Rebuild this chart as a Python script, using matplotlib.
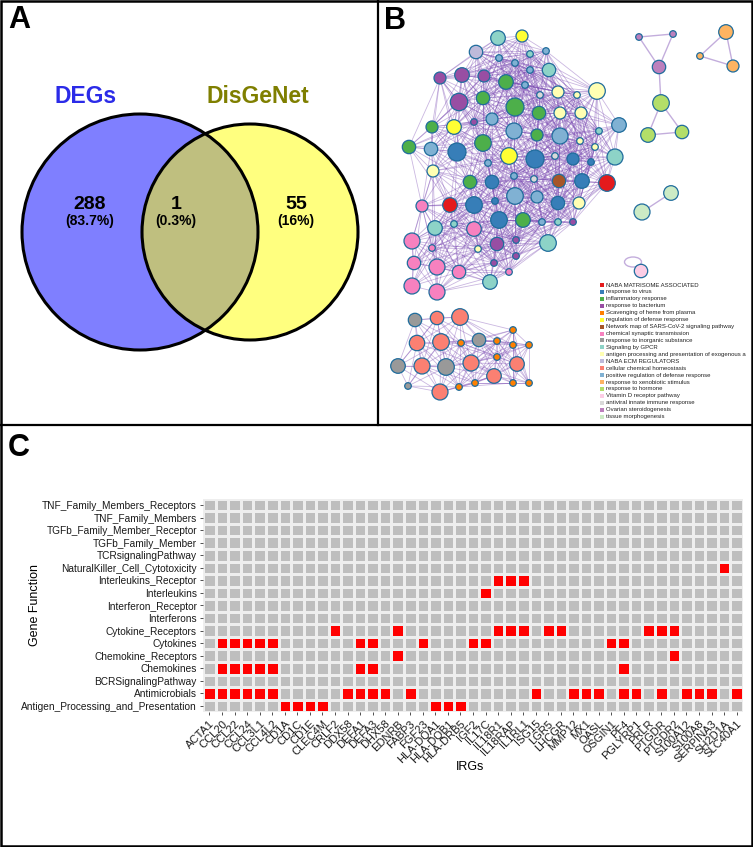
import matplotlib
matplotlib.use('Agg')
import matplotlib.pyplot as plt
import numpy as np
from matplotlib.patches import Circle, Rectangle, Ellipse
from matplotlib.colors import ListedColormap

plt.rcParams['font.family'] = ['Liberation Sans', 'DejaVu Sans']

W, H = 753, 847
fig = plt.figure(figsize=(W / 100, H / 100), dpi=100)

# ---------------- Panel A data ----------------
venn_names = ['DEGs', 'DisGeNet']
venn_counts = [288, 1, 55]
venn_pcts = ['(83.7%)', '(0.3%)', '(16%)']

# ---------------- Panel B data ----------------
legend_terms = [
    'NABA MATRISOME ASSOCIATED', 'response to virus', 'inflammatory response',
    'response to bacterium', 'Scavenging of heme from plasma',
    'regulation of defense response', 'Network map of SARS-CoV-2 signaling pathway',
    'chemical synaptic transmission', 'response to inorganic substance',
    'Signaling by GPCR', 'antigen processing and presentation of exogenous a',
    'NABA ECM REGULATORS', 'cellular chemical homeostasis',
    'positive regulation of defense response', 'response to xenobiotic stimulus',
    'response to hormone', 'Vitamin D receptor pathway',
    'antiviral innate immune response', 'Ovarian steroidogenesis',
    'tissue morphogenesis']
term_colors = ['#E41A1C', '#377EB8', '#4DAF4A', '#984EA3', '#FF7F00', '#FFFF33',
               '#A65628', '#F781BF', '#999999', '#8DD3C7', '#FFFFB3', '#BEBADA',
               '#FB8072', '#80B1D3', '#FDB462', '#B3DE69', '#FCCDE5', '#D9D9D9',
               '#BC80BD', '#CCEBC5']

# nodes: x, y (pixel layout), radius, term index, cluster id
node_x = [498, 522, 476, 499, 530, 546, 515, 549, 530, 440, 462, 484, 506, 525, 558, 577, 597,
          459, 483, 540, 515, 539, 560, 581, 432, 454, 474, 492, 514, 537, 560, 599, 619,
          409, 431, 457, 483, 509, 535, 555, 573, 580, 595, 615, 433, 488, 591, 470, 492,
          514, 534, 559, 582, 607, 422, 450, 474, 495, 515, 537, 558, 579, 435, 454, 474,
          499, 523, 542, 558, 573, 412, 432, 497, 516, 548, 478, 414, 437, 459, 494, 516,
          509, 490, 412, 437,
          415, 437, 460, 417, 441, 461, 479, 497, 513, 513, 529, 497, 398, 422, 446, 471,
          517, 494, 408, 440, 459, 475, 513, 529,
          639, 673, 659, 661, 648, 682,
          726, 700, 733,
          671, 642,
          641]
node_y = [38, 36, 52, 58, 54, 51, 63, 70, 70, 78, 75, 76, 82, 85, 92, 95, 91,
          102, 98, 95, 107, 113, 113, 113, 127, 127, 122, 119, 131, 135, 136, 131, 125,
          147, 149, 152, 143, 156, 159, 156, 159, 141, 147, 157, 171, 163, 162, 182, 182,
          176, 179, 181, 181, 183, 206, 205, 205, 201, 196, 197, 203, 203, 228, 224, 229,
          220, 220, 222, 222, 222, 241, 248, 244, 240, 243, 249, 263, 267, 272, 263, 256,
          272, 282, 286, 292,
          320, 318, 317, 343, 342, 343, 340, 341, 330, 345, 345, 357, 366, 366, 367, 363,
          364, 376, 386, 392, 387, 383, 383, 383,
          37, 34, 67, 103, 135, 132,
          32, 56, 66,
          193, 212,
          271]
node_r = [7.3, 6.0, 6.7, 3.3, 3.3, 3.3, 3.3, 6.7, 3.3, 6.0, 7.3, 6.0, 7.3, 3.3, 6.0, 3.3, 8.3,
          8.7, 6.7, 3.3, 9.0, 6.7, 6.0, 6.0, 6.0, 7.3, 3.3, 6.0, 8.0, 6.0, 8.0, 3.3, 7.3,
          6.7, 6.7, 9.0, 8.3, 8.3, 9.0, 3.3, 6.0, 3.3, 3.3, 8.0, 6.0, 3.3, 3.3, 6.7, 6.7,
          3.3, 3.3, 6.7, 7.3, 8.3, 6.0, 7.3, 8.3, 3.3, 8.3, 6.0, 6.7, 6.0, 7.3, 3.3, 7.3,
          8.3, 7.3, 3.3, 3.3, 3.3, 8.0, 3.3, 6.7, 3.3, 8.3, 3.3, 6.7, 8.0, 6.7, 3.3, 3.3,
          3.3, 7.3, 8.0, 8.0,
          6.7, 6.7, 8.3, 7.7, 8.3, 3.3, 6.7, 3.3, 3.3, 3.3, 3.3, 3.3, 7.3, 8.0, 8.3, 8.0,
          7.3, 7.3, 3.3, 8.0, 3.3, 3.3, 3.3, 3.3,
          3.3, 3.3, 6.7, 8.3, 7.3, 6.7,
          7.3, 3.3, 6.0,
          7.3, 8.0,
          6.7]
node_term = [9, 5, 11, 13, 9, 13, 13, 9, 13, 3, 3, 3, 2, 13, 10, 10, 10,
             3, 2, 17, 2, 2, 10, 10, 2, 5, 3, 13, 13, 2, 13, 9, 13,
             2, 13, 1, 2, 5, 1, 17, 1, 10, 10, 9, 10, 13, 1, 2, 1,
             13, 17, 6, 1, 0, 7, 0, 1, 1, 13, 13, 1, 10, 9, 9, 7,
             1, 2, 13, 9, 3, 7, 7, 3, 3, 9, 10, 7, 7, 7, 3, 3,
             7, 9, 7, 7,
             8, 12, 12, 12, 12, 4, 8, 4, 4, 4, 4, 4, 8, 12, 8, 12,
             12, 12, 8, 12, 4, 4, 4, 4,
             18, 18, 18, 15, 15, 15,
             14, 14, 14,
             19, 19,
             16]
node_cluster = ['M'] * 85 + ['L'] * 24 + ['R1'] * 6 + ['R2'] * 3 + ['R3'] * 2 + ['R4']
small_edges = [(109, 110), (109, 111), (110, 111), (111, 112), (112, 113), (112, 114),
               (113, 114), (115, 116), (115, 117), (116, 117), (118, 119)]

# ---------------- Panel C data ----------------
gene_functions = ['Antigen_Processing_and_Presentation', 'Antimicrobials',
                  'BCRSignalingPathway', 'Chemokines', 'Chemokine_Receptors',
                  'Cytokines', 'Cytokine_Receptors', 'Interferons',
                  'Interferon_Receptor', 'Interleukins', 'Interleukins_Receptor',
                  'NaturalKiller_Cell_Cytotoxicity', 'TCRsignalingPathway',
                  'TGFb_Family_Member', 'TGFb_Family_Member_Receptor',
                  'TNF_Family_Members', 'TNF_Family_Members_Receptors']
irgs = ['ACTA1', 'CCL20', 'CCL22', 'CCL24', 'CCL3L1', 'CCL4L2', 'CD1A', 'CD1C', 'CD1E',
        'CLEC4M', 'CRLF2', 'DDX58', 'DEFA1', 'DEFA3', 'DHX58', 'EDNRB', 'FABP3', 'FGF23',
        'HLA-DQA1', 'HLA-DQB1', 'HLA-DRB5', 'IGF2', 'IL17C', 'IL18R1', 'IL18RAP', 'IL1RL1',
        'ISG15', 'LGR5', 'LHCGR', 'MMP12', 'MX1', 'OASL', 'OSGIN1', 'PF4', 'PGLYRP1',
        'PRLR', 'PTGDR', 'PTGDR2', 'S100A12', 'S100A8', 'SERPINA3', 'SH2D1A', 'SLC40A1']
antigen_genes = ['CD1A', 'CD1C', 'CD1E', 'CLEC4M', 'HLA-DQA1', 'HLA-DQB1', 'HLA-DRB5']
antimicrobial_genes = ['ACTA1', 'CCL20', 'CCL22', 'CCL24', 'CCL3L1', 'CCL4L2', 'DDX58',
                       'DEFA1', 'DEFA3', 'DHX58', 'FABP3', 'ISG15', 'MMP12', 'MX1', 'OASL',
                       'PF4', 'PGLYRP1', 'PTGDR', 'S100A12', 'S100A8', 'SERPINA3', 'SLC40A1']
chemokine_genes = ['CCL20', 'CCL22', 'CCL24', 'CCL3L1', 'CCL4L2', 'DEFA1', 'DEFA3', 'PF4']
chemokine_receptor_genes = ['EDNRB', 'PTGDR2']
cytokine_genes = ['CCL20', 'CCL22', 'CCL24', 'CCL3L1', 'CCL4L2', 'DEFA1', 'DEFA3', 'FGF23',
                  'IGF2', 'IL17C', 'OSGIN1', 'PF4']
cytokine_receptor_genes = ['CRLF2', 'EDNRB', 'IL18R1', 'IL18RAP', 'IL1RL1', 'LGR5', 'LHCGR',
                           'PRLR', 'PTGDR', 'PTGDR2']
interleukin_genes = ['IL17C']
interleukin_receptor_genes = ['IL18R1', 'IL18RAP', 'IL1RL1']
nk_genes = ['SH2D1A']

membership = {
    'Antigen_Processing_and_Presentation': antigen_genes,
    'Antimicrobials': antimicrobial_genes,
    'Chemokines': chemokine_genes,
    'Chemokine_Receptors': chemokine_receptor_genes,
    'Cytokines': cytokine_genes,
    'Cytokine_Receptors': cytokine_receptor_genes,
    'Interleukins': interleukin_genes,
    'Interleukins_Receptor': interleukin_receptor_genes,
    'NaturalKiller_Cell_Cytotoxicity': nk_genes,
}

# ================= Panel A =================
ax_a = fig.add_axes([0, 1 - 425 / H, 378 / W, 425 / H])
ax_a.set_xlim(0, 378)
ax_a.set_ylim(425, 0)
ax_a.axis('off')
c1 = (140, 232, 118)
c2 = (250, 232, 108)
ax_a.add_patch(Circle(c1[:2], c1[2], fc='#0000FF', alpha=0.5, ec='none'))
ax_a.add_patch(Circle(c2[:2], c2[2], fc='#FFFF00', alpha=0.5, ec='none'))
ax_a.add_patch(Circle(c1[:2], c1[2], fc='none', ec='black', lw=2.2))
ax_a.add_patch(Circle(c2[:2], c2[2], fc='none', ec='black', lw=2.2))
ax_a.text(86, 96, venn_names[0], color='#2B2BE8', fontsize=16.5, fontweight='bold',
          ha='center', va='center')
ax_a.text(258, 96, venn_names[1], color='#7F7F00', fontsize=16.5, fontweight='bold',
          ha='center', va='center')
for x, n, p in zip([90, 176, 296], venn_counts, venn_pcts):
    ax_a.text(x, 204, str(n), fontsize=14, fontweight='bold', ha='center', va='center')
    ax_a.text(x, 221, p, fontsize=10, fontweight='bold', ha='center', va='center')
ax_a.text(8, 5, 'A', fontsize=22, fontweight='bold', ha='left', va='top')

# ================= Panel B =================
ax_b = fig.add_axes([378 / W, 1 - 425 / H, 375 / W, 425 / H])
ax_b.set_xlim(378, 753)
ax_b.set_ylim(425, 0)
ax_b.axis('off')
nx = np.array(node_x, float)
ny = np.array(node_y, float)
ncl = np.array(node_cluster)
edge_col = '#7B4BB3'
for cl, thr in [('M', 78), ('L', 62)]:
    idx = np.where(ncl == cl)[0]
    for a in range(len(idx)):
        for b in range(a + 1, len(idx)):
            i, j = idx[a], idx[b]
            d = np.hypot(nx[i] - nx[j], ny[i] - ny[j])
            if d < thr:
                ax_b.plot([nx[i], nx[j]], [ny[i], ny[j]], color=edge_col, alpha=0.4,
                          lw=0.6, zorder=1)
for i, j in small_edges:
    ax_b.plot([nx[i], nx[j]], [ny[i], ny[j]], color=edge_col, alpha=0.45, lw=1.0, zorder=1)
ax_b.add_patch(Ellipse((633, 262), 17, 10, fc='none', ec=edge_col, alpha=0.45, lw=1.0, zorder=1))
for x, y, r, t in zip(node_x, node_y, node_r, node_term):
    ax_b.add_patch(Circle((x, y), r, fc=term_colors[t], ec='#1F6C9C', lw=0.9, zorder=3))
for k, (term, col) in enumerate(zip(legend_terms, term_colors)):
    yy = 285 + k * 6.93
    ax_b.add_patch(Rectangle((600, yy - 2), 4, 4, fc=col, ec='none'))
    ax_b.text(605.5, yy, term, fontsize=4.35, ha='left', va='center', color='#222222')
ax_b.text(384, 6, 'B', fontsize=22, fontweight='bold', ha='left', va='top')

# ================= Panel C =================
nrow, ncol = len(gene_functions), len(irgs)
mat = np.zeros((nrow, ncol))
for r, fn in enumerate(gene_functions):
    for g in membership.get(fn, []):
        mat[r, irgs.index(g)] = 1

left_px, right_px = 203.2, 742.9
top_px, bot_px = 498.7, 712.3
ax_c = fig.add_axes([left_px / W, 1 - bot_px / H, (right_px - left_px) / W, (bot_px - top_px) / H])
cmap = ListedColormap(['#BEBEBE', '#FF0000'])
ax_c.pcolormesh(np.arange(ncol + 1) - 0.5, np.arange(nrow + 1) - 0.5, mat, cmap=cmap,
                vmin=0, vmax=1, edgecolors='#EEEEEE', linewidth=1.8)
ax_c.set_xlim(-0.5, ncol - 0.5)
ax_c.set_ylim(-0.5, nrow - 0.5)
for s in ax_c.spines.values():
    s.set_visible(False)
ax_c.set_xticks(range(ncol))
ax_c.set_xticklabels(irgs, rotation=45, ha='right', va='top', rotation_mode='anchor',
                     fontsize=8, color='#1A1A1A')
ax_c.set_yticks(range(nrow))
ax_c.set_yticklabels(gene_functions, fontsize=7.3, color='#1A1A1A')
ax_c.tick_params(axis='both', length=2.5, width=0.6, color='#333333', pad=2)

# ================= Frame / dividers =================
ov = fig.add_axes([0, 0, 1, 1], zorder=10)
ov.set_xlim(0, W)
ov.set_ylim(H, 0)
ov.axis('off')
ov.patch.set_alpha(0)
ov.add_patch(Rectangle((1, 1), W - 2, H - 2, fc='none', ec='black', lw=1.8))
ov.plot([378, 378], [0, 425], color='black', lw=1.6)
ov.plot([0, W], [425, 425], color='black', lw=1.6)
ov.text(8, 433, 'C', fontsize=22, fontweight='bold', ha='left', va='top')
ov.text(470, 767, 'IRGs', fontsize=9, ha='center', va='center')
ov.text(35, 605, 'Gene Function', fontsize=9, rotation=90, ha='center', va='center')

fig.savefig('out.png', dpi=100)
